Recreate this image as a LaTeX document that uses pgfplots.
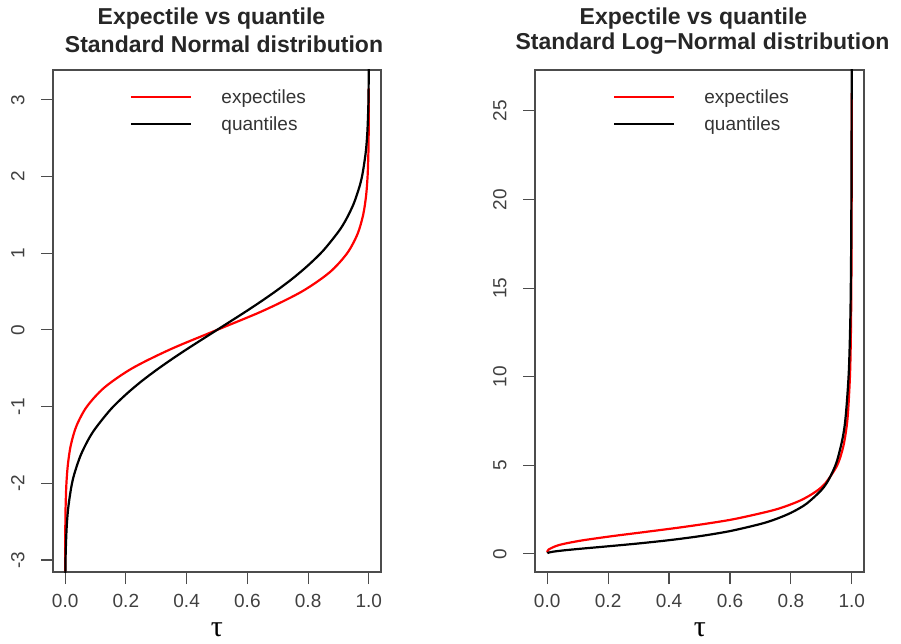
\documentclass[border=0pt]{standalone}
\usepackage{pgfplots}
\pgfplotsset{compat=1.18}
\usepackage{fontspec}
\setmainfont{Liberation Sans}
\newfontfamily\seriffont{Liberation Serif}

\pgfplotstableread{
tau e
0.000073 -3.15
0.00013 -3.0
0.00075 -2.5
0.00190 -2.25
0.00422 -2.0
0.00914 -1.75
0.0188 -1.5
0.0374 -1.25
0.0715 -1.0
0.1295 -0.75
0.2209 -0.5
0.3481 -0.25
0.5 0
0.6519 0.25
0.7791 0.5
0.8705 0.75
0.9285 1.0
0.9626 1.25
0.9812 1.5
0.99086 1.75
0.99578 2.0
0.99810 2.25
0.99925 2.5
0.99987 3.0
0.999927 3.15
}\normexp

\pgfplotstableread{
tau q
0.0002 -3.540
0.0005 -3.291
0.001 -3.090
0.002 -2.878
0.005 -2.576
0.01 -2.326
0.02 -2.054
0.03 -1.881
0.05 -1.645
0.075 -1.440
0.1 -1.282
0.15 -1.036
0.2 -0.842
0.25 -0.674
0.3 -0.524
0.35 -0.385
0.4 -0.253
0.45 -0.126
0.5 0
0.55 0.126
0.6 0.253
0.65 0.385
0.7 0.524
0.75 0.674
0.8 0.842
0.85 1.036
0.9 1.282
0.925 1.440
0.95 1.645
0.97 1.881
0.98 2.054
0.99 2.326
0.995 2.576
0.998 2.878
0.999 3.090
0.9995 3.291
0.9998 3.540
}\normq

\pgfplotstableread{
tau e
0.000178 0.10
0.00082 0.15
0.00474 0.25
0.0382 0.5
0.1102 0.75
0.2118 1.0
0.3265 1.25
0.4386 1.5
0.5389 1.75
0.6236 2.0
0.7488 2.5
0.8289 3.0
0.8802 3.5
0.9137 4.0
0.9519 5.0
0.9711 6.0
0.98148 7.0
0.98759 8.0
0.99380 10.0
0.99658 12.0
0.99839 15.0
0.99943 20.0
0.99979 26.0
}\lnexp

\pgfplotstableread{
tau q
0.0005 0.0372
0.001 0.0455
0.005 0.0761
0.01 0.0977
0.02 0.1282
0.05 0.1931
0.1 0.2776
0.15 0.3549
0.2 0.4310
0.3 0.5919
0.4 0.7760
0.5 1.0
0.6 1.2883
0.7 1.6894
0.75 1.9630
0.8 2.3198
0.85 2.8183
0.9 3.6022
0.925 4.2206
0.95 5.1803
0.97 6.5557
0.98 7.7902
0.99 10.2405
0.995 13.1613
0.997 15.609
0.998 17.88
0.999 21.98
0.9995 26.84
0.9998 34.47
}\lnq

\pgfplotsset{
  rstyle/.style={
    scale only axis,
    anchor=south west,
    axis line style={draw=black!70, line width=1.1pt},
    tick style={draw=black!70, line width=1.1pt},
    tick align=outside,
    major tick length=12pt,
    xtick pos=bottom, ytick pos=left,
    xmin=-0.04, xmax=1.04,
    xtick={0,0.2,0.4,0.6,0.8,1.0},
    xticklabels={0.0,0.2,0.4,0.6,0.8,1.0},
    tick label style={font=\fontsize{19}{22}\selectfont, text=black!75},
    xticklabel style={yshift=-7pt},
    yticklabel style={xshift=-13pt, rotate=90, anchor=south},
    /pgf/number format/assume math mode=true,
    clip=true,
    legend style={draw=none, fill=none, font=\fontsize{19}{22}\selectfont,
      text=black!80, row sep=10pt, inner sep=0pt,
      nodes={inner sep=1pt},
      /tikz/every odd column/.append style={column sep=28pt},
      cells={anchor=west}},
    legend image code/.code={\draw[#1] (0pt,0pt) -- (60pt,0pt);},
  }
}

\begin{document}
\begin{tikzpicture}[x=1pt,y=1pt]
\useasboundingbox (0,0) rectangle (901,643);

\begin{axis}[rstyle, at={(53pt,71pt)}, width=328pt, height=502pt,
  ymin=-3.157, ymax=3.39, ytick={-3,-2,-1,0,1,2,3},
  legend style={at={(0.235,0.964)}, anchor=north west}]
\addplot[red, line width=2.2pt, smooth, tension=0.5] table[x=tau,y=e] {\normexp};
\addlegendentry{expectiles}
\addplot[black, line width=2.2pt, smooth, tension=0.5] table[x=tau,y=q] {\normq};
\addlegendentry{quantiles}
\end{axis}

\begin{axis}[rstyle, at={(535pt,71pt)}, width=329pt, height=502pt,
  ymin=-1.02, ymax=27.31, ytick={0,5,10,15,20,25},
  legend style={at={(0.237,0.964)}, anchor=north west}]
\addplot[red, line width=2.2pt, smooth, tension=0.5] table[x=tau,y=e] {\lnexp};
\addlegendentry{expectiles}
\addplot[black, line width=2.2pt, smooth, tension=0.5] table[x=tau,y=q] {\lnq};
\addlegendentry{quantiles}
\end{axis}

\node[font=\bfseries\fontsize{23}{26}\selectfont, text=black!85] at (211.5,624) {Expectile vs quantile};
\node[font=\bfseries\fontsize{23}{26}\selectfont, text=black!85] at (224,599) {Standard Normal distribution};
\node[font=\bfseries\fontsize{23}{26}\selectfont, text=black!85] at (693.5,624) {Expectile vs quantile};
\node[font=\bfseries\fontsize{23}{26}\selectfont, text=black!85] at (702.5,599) {Standard Log−Normal distribution};

\node[font=\seriffont\fontsize{30}{32}\selectfont, anchor=base, inner sep=0pt] at (217,7) {τ};
\node[font=\seriffont\fontsize{30}{32}\selectfont, anchor=base, inner sep=0pt] at (700,7) {τ};
\end{tikzpicture}
\end{document}
